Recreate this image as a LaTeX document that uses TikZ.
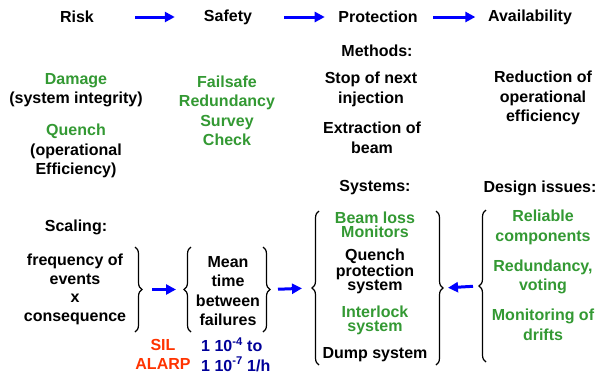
\documentclass[tikz,border=0pt]{standalone}
\usepackage{fontspec}
\setmainfont{Liberation Sans}
\usetikzlibrary{arrows.meta,decorations.pathreplacing}
\definecolor{okgreen}{RGB}{51,153,51}
\definecolor{alertred}{RGB}{255,51,0}
\definecolor{ratenavy}{RGB}{0,0,153}
\definecolor{flowblue}{RGB}{0,0,255}
\begin{document}
\begin{tikzpicture}[x=1pt,y=-1pt,
  every node/.style={font=\bfseries\fontsize{16}{19.5}\selectfont, align=center, inner sep=0pt},
  tight/.style={font=\bfseries\fontsize{16}{14}\selectfont},
  mid/.style={font=\bfseries\fontsize{16}{18.5}\selectfont},
  good/.style={text=okgreen},
  flow/.style={draw=flowblue, line width=3pt, -{Triangle[length=10pt,width=10pt]}},
  curly/.style={draw, line width=1.2pt, decorate, decoration={brace, amplitude=7pt}}
]
\useasboundingbox (0,0) rectangle (600,376);

% chain of concepts along the top
\node (risk) at (77,17) {Risk};
\node (safety) at (228,17) {Safety};
\node (prot) at (378,17) {Protection};
\node (avail) at (530,17) {Availability};
\draw[flow, shorten <=41pt, shorten >=29pt] (risk) -- (safety);
\draw[flow, shorten <=32pt, shorten >=13.5pt] (safety) -- (prot);
\draw[flow, shorten <=15.5pt, shorten >=12.5pt] (prot) -- (avail);

% risk column
\node (damage) at (76,90) {\textcolor{okgreen}{Damage}\\(system integrity)};
\node (quench) at (76,151) {\textcolor{okgreen}{Quench}\\(operational\\Efficiency)};

% safety column
\node[good] (failsafe) at (227,111) {Failsafe\\Redundancy\\Survey\\Check};

% protection column
\node (methods) at (377,51) {Methods:};
\node (stop) at (371,89.5) {Stop of next\\injection};
\node (extract) at (372,138) {Extraction of\\beam};

% availability column
\node (reduce) at (543,98) {Reduction of\\operational\\efficiency};

% scaling and failure rates
\node (scaling) at (76,227) {Scaling:};
\node[mid] (freq) at (75,289.5) {frequency of\\events\\x\\consequence};
\node (mtbf) at (228,291) {Mean\\time\\between\\failures};
\node[text=alertred] (sil) at (163,354.5) {SIL\\ALARP};
\node[text=ratenavy, anchor=west, align=left] (rate) at (201,354.5)
  {1 10\textsuperscript{-4} to\\1 10\textsuperscript{-7} 1/h};

% protection systems
\node (systems) at (375,188) {Systems:};
\node[tight, good] (blm) at (375,225) {Beam loss\\Monitors};
\node[tight] (qps) at (375,271) {Quench\\protection\\system};
\node[tight, good] (interlock) at (375,320) {Interlock\\system};
\node (dump) at (375,355) {Dump system};

% design issues
\node (design) at (540,188) {Design issues:};
\node[good] (reliable) at (543,227.5) {Reliable\\components};
\node[good] (redund) at (543,277) {Redundancy,\\voting};
\node[good] (drift) at (543,325) {Monitoring of\\drifts};

% grouping braces
\draw[curly] (135,247) -- (135,332);
\coordinate (freqtip) at (143,289.5);
\draw[curly] (191,332) -- (191,247);
\coordinate (mtbfin) at (183,289.5);
\draw[curly] (263,247) -- (263,332);
\coordinate (mtbfout) at (271,289.5);
\draw[curly] (319,365) -- (319,211);
\coordinate (sysin) at (311,288);
\draw[curly] (436,211) -- (436,365);
\coordinate (sysout) at (444,288);
\draw[curly] (486,362) -- (486,210);
\coordinate (designtip) at (478,286);

% links between the groups
\draw[flow, shorten <=9pt, shorten >=7pt] (freqtip) -- (mtbfin);
\draw[flow, shorten <=7pt, shorten >=9pt] (mtbfout) -- (sysin);
\draw[flow, shorten <=5pt, shorten >=4pt] (designtip) -- (sysout);
\end{tikzpicture}
\end{document}
